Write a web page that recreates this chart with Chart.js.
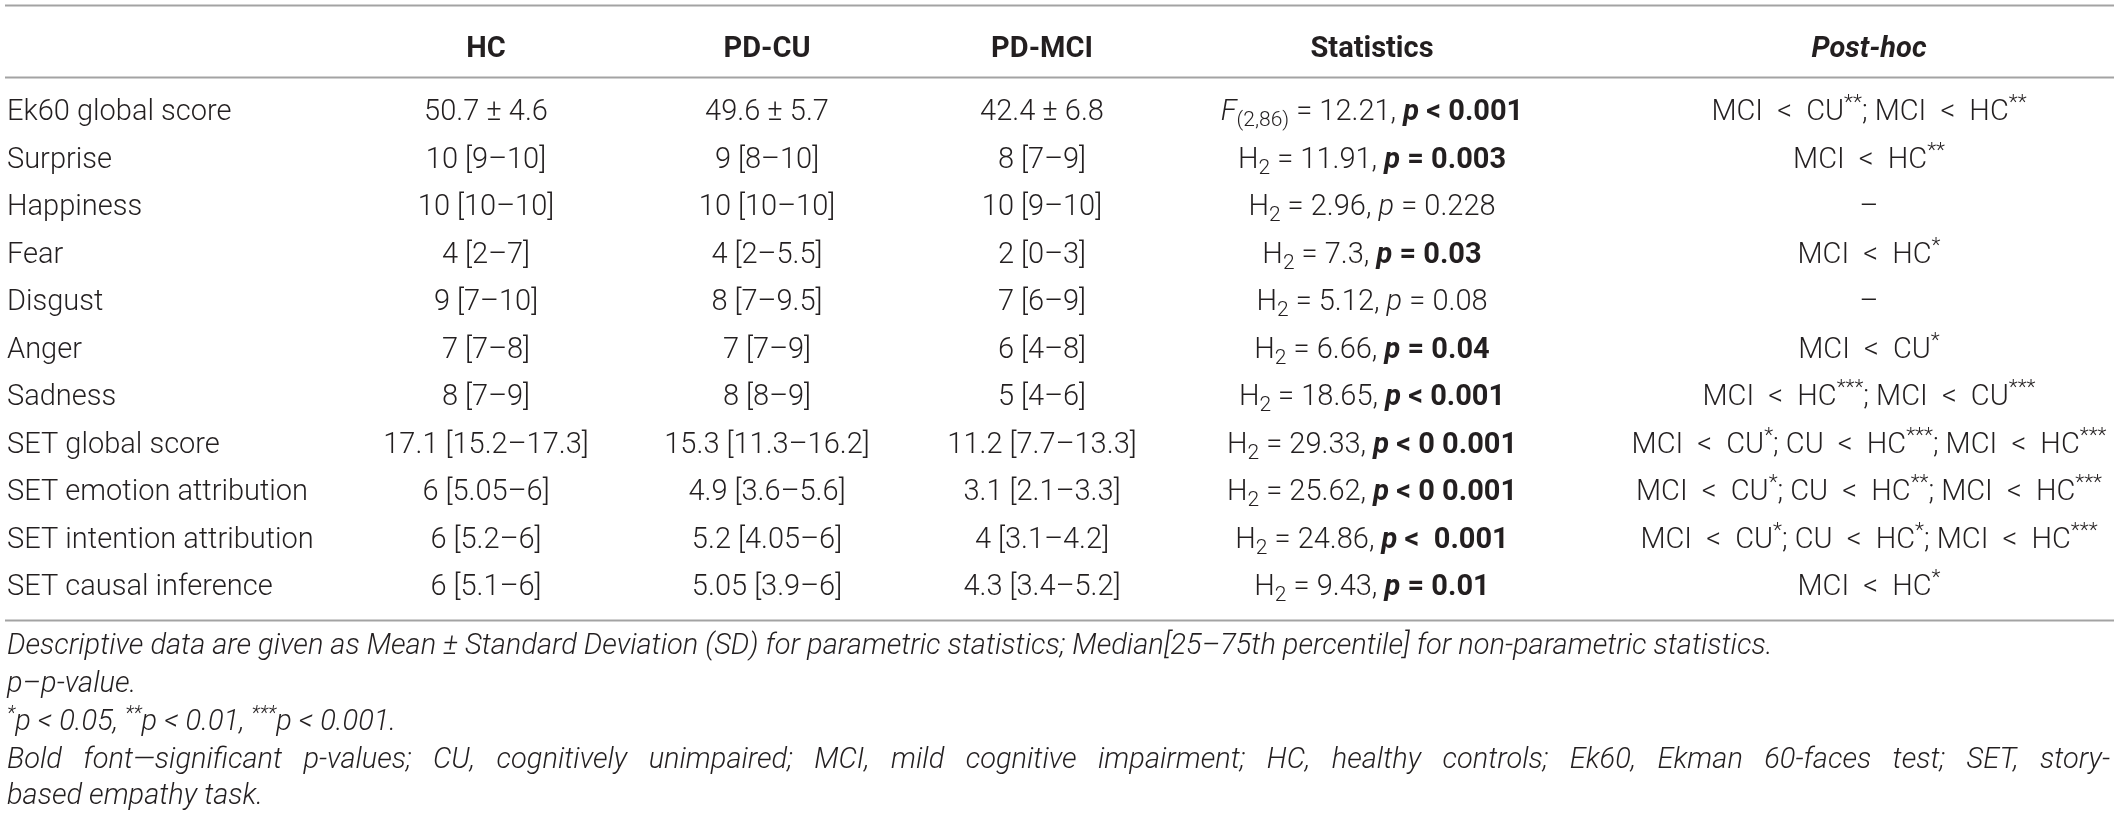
<!DOCTYPE html>
<html>
<head>
<meta charset="utf-8">
<script src="https://cdn.jsdelivr.net/npm/chart.js@4"></script>
<style>
  body { margin: 0; background: #fff; }
  #wrap { width: 2119px; height: 819px; }
</style>
</head>
<body>
<div id="wrap"><canvas id="tableChart"></canvas></div>
<script>
// table data
const headers = ["", "HC", "PD-CU", "PD-MCI", "Statistics", "Post-hoc"];
const measures = ["Ek60 global score", "Surprise", "Happiness", "Fear", "Disgust", "Anger", "Sadness",
    "SET global score", "SET emotion attribution", "SET intention attribution", "SET causal inference"];
const hcValues = ["50.7 ± 4.6", "10 [9–10]", "10 [10–10]", "4 [2–7]", "9 [7–10]", "7 [7–8]", "8 [7–9]",
    "17.1 [15.2–17.3]", "6 [5.05–6]", "6 [5.2–6]", "6 [5.1–6]"];
const cuValues = ["49.6 ± 5.7", "9 [8–10]", "10 [10–10]", "4 [2–5.5]", "8 [7–9.5]", "7 [7–9]", "8 [8–9]",
    "15.3 [11.3–16.2]", "4.9 [3.6–5.6]", "5.2 [4.05–6]", "5.05 [3.9–6]"];
const mciValues = ["42.4 ± 6.8", "8 [7–9]", "10 [9–10]", "2 [0–3]", "7 [6–9]", "6 [4–8]", "5 [4–6]",
    "11.2 [7.7–13.3]", "3.1 [2.1–3.3]", "4 [3.1–4.2]", "4.3 [3.4–5.2]"];
const statValues = ["12.21", "11.91", "2.96", "7.3", "5.12", "6.66", "18.65", "29.33", "25.62", "24.86", "9.43"];
const pValues = ["< 0.001", "= 0.003", "= 0.228", "= 0.03", "= 0.08", "= 0.04", "< 0.001",
    "< 0 0.001", "< 0 0.001", "<  0.001", "= 0.01"];
const significant = [true, true, false, true, false, true, true, true, true, true, true];
const postHoc = [
    [["MCI", "CU", "**"], ["MCI", "HC", "**"]],
    [["MCI", "HC", "**"]],
    [],
    [["MCI", "HC", "*"]],
    [],
    [["MCI", "CU", "*"]],
    [["MCI", "HC", "***"], ["MCI", "CU", "***"]],
    [["MCI", "CU", "*"], ["CU", "HC", "***"], ["MCI", "HC", "***"]],
    [["MCI", "CU", "*"], ["CU", "HC", "**"], ["MCI", "HC", "***"]],
    [["MCI", "CU", "*"], ["CU", "HC", "*"], ["MCI", "HC", "***"]],
    [["MCI", "HC", "*"]]
];
const footnotes = [
    "Descriptive data are given as Mean ± Standard Deviation (SD) for parametric statistics; Median[25–75th percentile] for non-parametric statistics.",
    "p–p-value.",
    "*p < 0.05, **p < 0.01, ***p < 0.001.",
    "Bold font—significant p-values; CU, cognitively unimpaired; MCI, mild cognitive impairment; HC, healthy controls; Ek60, Ekman 60-faces test; SET, story-",
    "based empathy task."
];

// layout (x in px-like units, y in row units)
const colX = [7, 486, 767, 1042, 1372, 1869];
const ROW0 = 113, ROWSTEP = 47.5;
const headerRow = -1.33;
const ruleRows = [-2.27, -0.76, 10.68];
const footRows = [11.24, 12.04, 12.84, 13.64, 14.4];

const INK = "#231f20";
const fonts = {
    reg: "300 29px Roboto",
    bold: "700 29px Roboto",
    boldIt: "italic 700 29px Roboto",
    it: "italic 300 29px Roboto",
    small: "300 21px Roboto",
    note: "italic 300 29px Roboto",
    noteSmall: "italic 300 20px Roboto"
};

function drawRich(ctx, segs, x, y, align) {
    let w = 0;
    segs.forEach(s => { ctx.font = s.font; w += ctx.measureText(s.text).width; });
    let cx = align === "center" ? x - w / 2 : x;
    segs.forEach(s => {
        ctx.font = s.font;
        ctx.fillText(s.text, cx, y + (s.dy || 0));
        cx += ctx.measureText(s.text).width;
    });
}

function statSegs(i) {
    const segs = i === 0
        ? [{ text: "F", font: fonts.it }, { text: "(2,86)", font: fonts.small, dy: 8 }]
        : [{ text: "H", font: fonts.reg }, { text: "2", font: fonts.small, dy: 8 }];
    segs.push({ text: " = " + statValues[i] + ", ", font: fonts.reg });
    if (significant[i]) {
        segs.push({ text: "p", font: fonts.boldIt }, { text: " " + pValues[i], font: fonts.bold });
    } else {
        segs.push({ text: "p", font: fonts.it }, { text: " " + pValues[i], font: fonts.reg });
    }
    return segs;
}

function postHocSegs(i) {
    const list = postHoc[i];
    if (!list.length) return [{ text: "–", font: fonts.reg }];
    const segs = [];
    list.forEach((c, k) => {
        if (k > 0) segs.push({ text: "; ", font: fonts.reg });
        segs.push({ text: c[0] + "  <  " + c[1], font: fonts.reg });
        segs.push({ text: c[2], font: fonts.small, dy: -9 });
    });
    return segs;
}

const columns = [measures, hcValues, cuValues, mciValues, statValues, statValues];

const tablePlugin = {
    id: "tableText",
    afterDatasetsDraw(chart) {
        const ctx = chart.ctx;
        const xs = chart.scales.x, ys = chart.scales.y;
        ctx.save();
        ctx.fillStyle = INK;
        ctx.textBaseline = "middle";

        // rules
        ctx.strokeStyle = "#a3a3a3";
        ctx.lineWidth = 2;
        ruleRows.forEach(r => {
            const y = Math.round(ys.getPixelForValue(r)) + 0.5;
            ctx.beginPath();
            ctx.moveTo(xs.getPixelForValue(5), y);
            ctx.lineTo(xs.getPixelForValue(2114), y);
            ctx.stroke();
        });

        // header
        const hy = ys.getPixelForValue(headerRow);
        headers.forEach((h, c) => {
            if (!h) return;
            drawRich(ctx, [{ text: h, font: c === 5 ? fonts.boldIt : fonts.bold }],
                xs.getPixelForValue(colX[c]), hy, "center");
        });

        // body cells
        chart.data.datasets.forEach((ds, c) => {
            const meta = chart.getDatasetMeta(c);
            meta.data.forEach((pt, i) => {
                let segs;
                if (c === 4) segs = statSegs(i);
                else if (c === 5) segs = postHocSegs(i);
                else segs = [{ text: columns[c][i], font: fonts.reg }];
                drawRich(ctx, segs, pt.x, pt.y, c === 0 ? "left" : "center");
            });
        });

        // footnotes
        const left = xs.getPixelForValue(7), right = xs.getPixelForValue(2110);
        footnotes.forEach((line, k) => {
            const y = ys.getPixelForValue(footRows[k]);
            if (k === 2) {
                const segs = [];
                line.split(", ").forEach((part, j, arr) => {
                    const stars = part.match(/^\*+/)[0];
                    segs.push({ text: stars, font: fonts.noteSmall, dy: -8 });
                    segs.push({ text: part.slice(stars.length) + (j < arr.length - 1 ? ", " : ""), font: fonts.note });
                });
                drawRich(ctx, segs, left, y, "left");
            } else if (k === 3) {
                // justified line
                ctx.font = fonts.note;
                const words = line.split(" ");
                const ww = words.map(w => ctx.measureText(w).width);
                const gap = (right - left - ww.reduce((a, b) => a + b, 0)) / (words.length - 1);
                let cx = left;
                words.forEach((w, j) => { ctx.fillText(w, cx, y); cx += ww[j] + gap; });
            } else {
                drawRich(ctx, [{ text: line, font: fonts.note }], left, y, "left");
            }
        });
        ctx.restore();
    }
};

new Chart(document.getElementById("tableChart"), {
    type: "scatter",
    data: {
        datasets: columns.map((col, c) => ({
            label: headers[c],
            data: measures.map((m, i) => ({ x: colX[c], y: i })),
            pointRadius: 0,
            pointHoverRadius: 0
        }))
    },
    options: {
        responsive: true,
        maintainAspectRatio: false,
        animation: false,
        devicePixelRatio: 1,
        layout: { padding: 0 },
        plugins: { legend: { display: false }, tooltip: { enabled: false } },
        scales: {
            x: { type: "linear", display: false, min: 0, max: 2119 },
            y: { type: "linear", display: false, reverse: true,
                 min: -ROW0 / ROWSTEP, max: (819 - ROW0) / ROWSTEP }
        }
    },
    plugins: [tablePlugin]
});
</script>
</body>
</html>
